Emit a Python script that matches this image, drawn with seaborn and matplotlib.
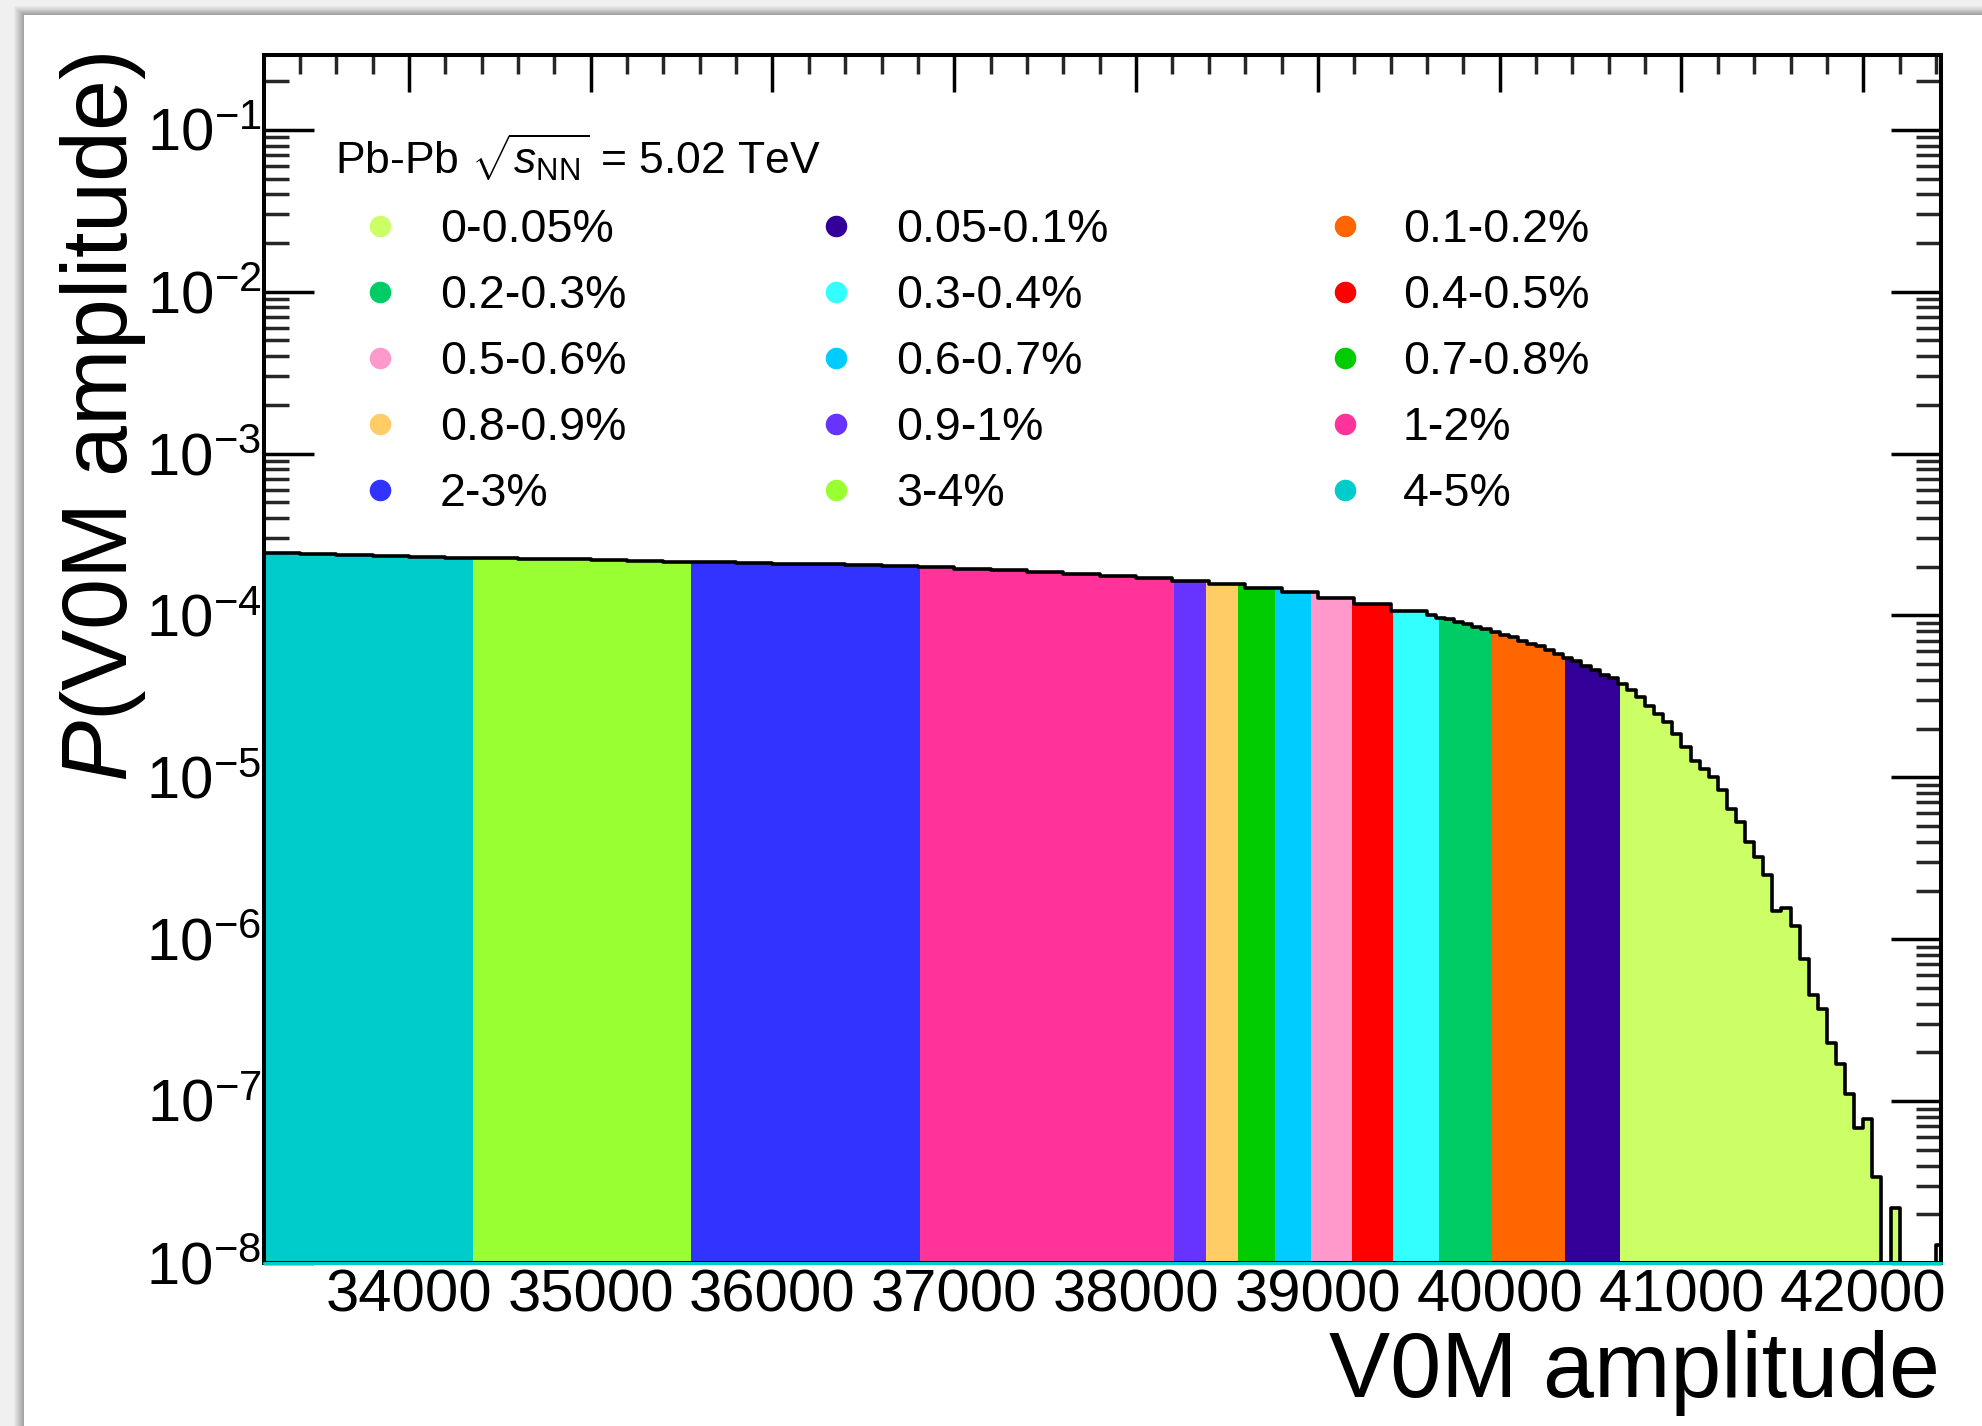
import numpy as np
import matplotlib
matplotlib.use("Agg")
import matplotlib.pyplot as plt
from matplotlib.patches import Rectangle
from matplotlib.ticker import LogLocator, NullFormatter, MultipleLocator, FixedLocator
import seaborn as sns

# ---------------- data ----------------
# histogram bin edges (V0M amplitude)
edges_coarse = np.arange(33200, 39600 + 1, 200)
edges_mid = np.arange(39650, 40600 + 1, 50)
edges_fine = np.arange(40650, 42450 + 1, 50)

# P(V0M amplitude) per bin
p_coarse = [2.43e-4, 2.40e-4, 2.36e-4, 2.33e-4, 2.31e-4, 2.28e-4, 2.26e-4, 2.24e-4,
            2.22e-4, 2.20e-4, 2.18e-4, 2.15e-4, 2.13e-4, 2.11e-4, 2.09e-4, 2.07e-4,
            2.04e-4, 2.01e-4, 1.98e-4, 1.95e-4, 1.91e-4, 1.86e-4, 1.81e-4, 1.76e-4,
            1.70e-4, 1.63e-4, 1.56e-4, 1.48e-4, 1.39e-4, 1.28e-4, 1.17e-4, 1.06e-4]
p_mid = [1.00e-4, 9.7e-5, 9.45e-5, 9.1e-5, 8.85e-5, 8.5e-5, 8.2e-5, 7.95e-5,
         7.6e-5, 7.35e-5, 7.0e-5, 6.7e-5, 6.45e-5, 6.1e-5, 5.8e-5, 5.5e-5,
         5.2e-5, 4.9e-5, 4.6e-5, 4.3e-5]
p_fine = [4.1e-5, 3.8e-5, 3.45e-5, 3.15e-5, 2.75e-5, 2.45e-5, 2.2e-5, 1.85e-5,
          1.55e-5, 1.27e-5, 1.12e-5, 1.0e-5, 8.4e-6, 6.4e-6, 5.3e-6, 4.0e-6,
          3.2e-6, 2.5e-6, 1.5e-6, 1.55e-6, 1.2e-6, 7.5e-7, 4.5e-7, 3.7e-7,
          2.3e-7, 1.7e-7, 1.1e-7, 6.8e-8, 7.8e-8, 3.4e-8, 0.0, 2.2e-8,
          0.0, 0.0, 0.0, 0.0, 1.3e-8]

# centrality classes
class_labels = ["0-0.05%", "0.05-0.1%", "0.1-0.2%",
                "0.2-0.3%", "0.3-0.4%", "0.4-0.5%",
                "0.5-0.6%", "0.6-0.7%", "0.7-0.8%",
                "0.8-0.9%", "0.9-1%", "1-2%",
                "2-3%", "3-4%", "4-5%"]
class_colors = ["#CCFF66", "#330099", "#FF6600",
                "#00CC66", "#33FFFF", "#FF0000",
                "#FF99CC", "#00CCFF", "#00CC00",
                "#FFCC66", "#6633FF", "#FF3399",
                "#3333FF", "#99FF33", "#00CCCC"]
class_amp_lo = [40663, 40361, 39959, 39667, 39414, 39188, 38963, 38765, 38561,
                38385, 38209, 36812, 35552, 34353, 33200]
class_amp_hi = [42250, 40663, 40361, 39959, 39667, 39414, 39188, 38963, 38765,
                38561, 38385, 38209, 36812, 35552, 34353]

x_ticks = [34000, 35000, 36000, 37000, 38000, 39000, 40000, 41000, 42000]

# ---------------- style ----------------
sns.set_theme(style="white")
plt.rcParams["font.family"] = ["Liberation Sans", "DejaVu Sans"]
plt.rcParams["mathtext.fontset"] = "custom"
plt.rcParams["mathtext.rm"] = "Liberation Sans"
plt.rcParams["mathtext.it"] = "Liberation Sans:italic"
plt.rcParams["mathtext.bf"] = "Liberation Sans:bold"

W, H = 1982, 1426
fig = plt.figure(figsize=(W / 100, H / 100), dpi=100)
fig.patch.set_facecolor("#f0f0f0")

# page panel with soft shadow
for i in range(10):
    g = 0.94 - 0.03 * (i + 1)
    fig.add_artist(Rectangle(((14 + i) / W, 0), 1, 1 - (6 + 0.9 * i) / H,
                             transform=fig.transFigure, facecolor=(g, g, g),
                             edgecolor="none", zorder=-3))
fig.add_artist(Rectangle((24 / W, 0), 1, 1 - 15 / H, transform=fig.transFigure,
                         facecolor="white", edgecolor="none", zorder=-2))

L, R, T, B = 264, 1940.7, 55, 1263
ax = fig.add_axes([L / W, 1 - B / H, (R - L) / W, (B - T) / H])
ax.set_facecolor("none")

edges = np.concatenate([edges_coarse, edges_mid, edges_fine]).astype(float)
values = np.array(p_coarse + p_mid + p_fine)


def value_at(x):
    i = np.searchsorted(edges, x, side="right") - 1
    return values[i]


# coloured centrality fills
for lab, col, lo, hi in zip(class_labels, class_colors, class_amp_lo, class_amp_hi):
    sub = [lo] + [e for e in edges if lo < e < hi] + [hi]
    sub = np.array(sub, dtype=float)
    vals = np.array([value_at(0.5 * (a + b)) for a, b in zip(sub[:-1], sub[1:])])
    vals = np.where(vals > 0, vals, 1e-12)
    ax.stairs(vals, sub, baseline=1e-12, fill=True, color=col, lw=0, zorder=1)

# histogram outline
sns.lineplot(x=edges, y=np.append(values, values[-1]), drawstyle="steps-post",
             color="black", lw=2.6, ax=ax, zorder=3)

ax.set_yscale("log")
ax.set_xlim(33203, 42426)
ax.set_ylim(1e-8, 0.29)

ax.axhline(1e-8, color="#00CCCC", lw=2.2, clip_on=False, zorder=4)

ax.set_axisbelow(True)
for s in ax.spines.values():
    s.set_visible(True)
    s.set_linewidth(2.9)
    s.set_color("black")
    s.set_zorder(3.5)

ax.xaxis.set_major_locator(FixedLocator(x_ticks))
ax.xaxis.set_minor_locator(MultipleLocator(200))
ax.yaxis.set_major_locator(LogLocator(base=10, numticks=20))
ax.yaxis.set_minor_locator(LogLocator(base=10, subs=np.arange(2, 10), numticks=20))
ax.yaxis.set_minor_formatter(NullFormatter())

ax.tick_params(axis="x", which="major", direction="in", length=26.6, width=2.5,
               top=True, bottom=False, labelsize=43, pad=4, colors="black")
ax.tick_params(axis="x", which="minor", direction="in", length=13.7, width=2.5,
               top=True, bottom=False)
ax.tick_params(axis="y", which="major", direction="in", length=36, width=2.5,
               left=True, right=True, labelsize=43, pad=2, colors="black")
ax.tick_params(axis="y", which="minor", direction="in", length=18, width=2.5,
               left=True, right=True)
ax.set_xlabel("")
ax.set_ylabel("")

# axis titles
fig.text(148 / W, 1 - 52 / H, r"$P$(V0M amplitude)", rotation=90, ha="right",
         va="top", fontsize=66, color="black")
fig.text(1940 / W, 1 - 1397 / H, "V0M amplitude", ha="right", va="baseline",
         fontsize=66, color="black")

# legend
def ax_xy(px, py):
    return ((px - L) / (R - L), (B - py) / (B - T))

hx, hy = ax_xy(335, 174)
ax.text(hx, hy, r"Pb-Pb $\sqrt{s_{\mathrm{NN}}}$ = 5.02 TeV", transform=ax.transAxes,
        fontsize=32, ha="left", va="baseline", color="black")
marker_x = [380, 836, 1345]
text_x = [440, 896, 1403]
for i, (lab, col) in enumerate(zip(class_labels, class_colors)):
    r, c = divmod(i, 3)
    yc = 226 + 66 * r
    mx, my = ax_xy(marker_x[c], yc)
    ax.plot([mx], [my], marker="o", ms=14.5, color=col, mec=col, ls="none",
            transform=ax.transAxes, clip_on=False, zorder=5)
    tx, ty = ax_xy(text_x[c], yc + 16.5)
    ax.text(tx, ty, lab, transform=ax.transAxes, fontsize=33.5, ha="left",
            va="baseline", color="black")

fig.savefig("out.png", dpi=100, facecolor=fig.get_facecolor())
